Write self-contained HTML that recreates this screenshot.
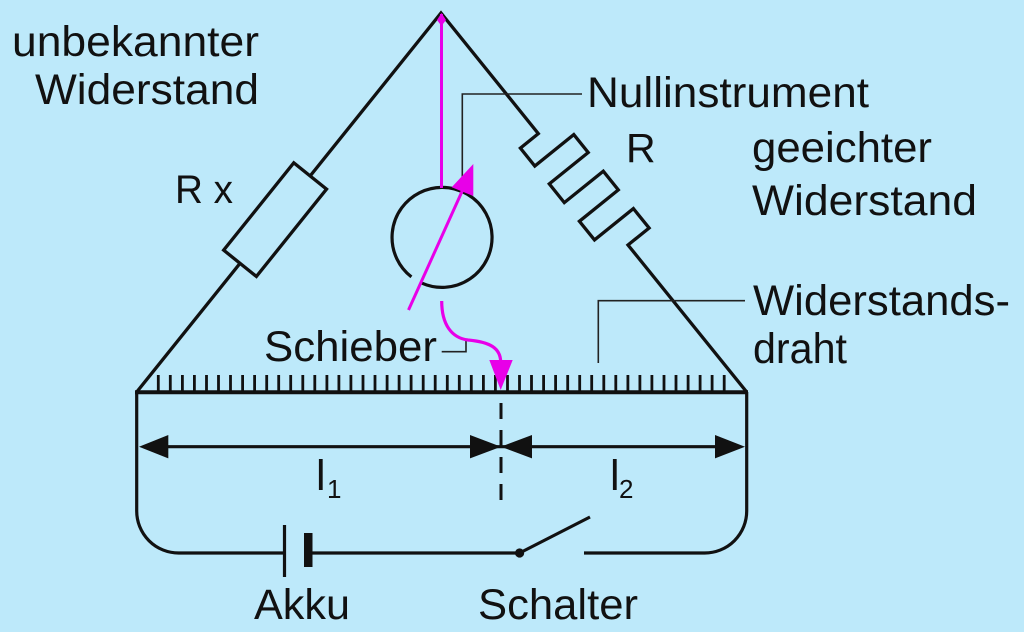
<!DOCTYPE html>
<html>
<head>
<meta charset="utf-8">
<style>
  html,body{margin:0;padding:0;background:#bde9fa;}
  svg{display:block;}
  text{font-family:"Liberation Sans", Arial, sans-serif; fill:#111;}
</style>
</head>
<body>
<svg width="1024" height="632" viewBox="0 0 1024 632" xmlns="http://www.w3.org/2000/svg">
  <rect x="0" y="0" width="1024" height="632" fill="#bde9fa"/>

  <!-- Triangle with meander resistor on right side -->
  <path d="M136.7,392 L441,13 L538.3,133.6 L520.4,148.1 L534.8,166 L573.8,134.6 L588.2,152.5 L549.3,183.9 L564.3,202.6 L603.3,171.2 L618.3,189.9 L579.4,221.3 L594.5,239.9 L633.4,208.6 L649.1,228 L628,245 L746.7,392"
        fill="none" stroke="#111" stroke-width="3.3" stroke-linejoin="miter" stroke-miterlimit="10"/>

  <!-- Rx resistor rectangle on left side -->
  <g transform="translate(441,13) rotate(128.76)">
    <rect x="209" y="-21" width="112" height="42" fill="#bde9fa" stroke="#111" stroke-width="3.3"/>
  </g>

  <!-- Ruler line -->
  <line x1="135" y1="392.3" x2="748" y2="392.3" stroke="#111" stroke-width="4"/>
  <!-- Ticks -->
  <g stroke="#111" stroke-width="2.8">
    <path d="M158.3,375V392 M170.3,375V392 M182.4,375V392 M194.4,375V392 M206.5,375V392 M218.5,375V392 M230.5,375V392 M242.6,375V392 M254.6,375V392 M266.7,375V392 M278.7,375V392 M290.7,375V392 M302.8,375V392 M314.8,375V392 M326.9,375V392 M338.9,375V392 M350.9,375V392 M363.0,375V392 M375.0,375V392 M387.1,375V392 M399.1,375V392 M411.1,375V392 M423.2,375V392 M435.2,375V392 M447.3,375V392 M459.3,375V392 M471.3,375V392 M483.4,375V392 M495.4,375V392 M507.5,375V392 M519.5,375V392 M531.5,375V392 M543.6,375V392 M555.6,375V392 M567.7,375V392 M579.7,375V392 M591.7,375V392 M603.8,375V392 M615.8,375V392 M627.9,375V392 M639.9,375V392 M651.9,375V392 M664.0,375V392 M676.0,375V392 M688.1,375V392 M700.1,375V392 M712.1,375V392 M724.2,375V392"/>
  </g>

  <!-- Side verticals and bottom circuit -->
  <path d="M136.7,392 V511 A42,42 0 0 0 178.7,553 H284.5" fill="none" stroke="#111" stroke-width="3.2"/>
  <path d="M584,553 H704.7 A42,42 0 0 0 746.7,511 V392" fill="none" stroke="#111" stroke-width="3.2"/>
  <!-- Battery -->
  <line x1="284.5" y1="525" x2="284.5" y2="577" stroke="#111" stroke-width="3.2"/>
  <rect x="304" y="533" width="8.5" height="34" fill="#111"/>
  <line x1="312" y1="553" x2="519.6" y2="553" stroke="#111" stroke-width="3.2"/>
  <!-- Switch -->
  <circle cx="519.6" cy="553" r="4.6" fill="#111"/>
  <line x1="519.6" y1="553" x2="590" y2="517" stroke="#111" stroke-width="3.2"/>

  <!-- Dimension arrows -->
  <line x1="150" y1="446.7" x2="735" y2="446.7" stroke="#111" stroke-width="3.2"/>
  <polygon points="139,446.7 168.3,435 168.3,458.4" fill="#111"/>
  <polygon points="501,446.7 470,435 470,458.4" fill="#111"/>
  <polygon points="501,446.7 532,435 532,458.4" fill="#111"/>
  <polygon points="745,446.7 715,435 715,458.4" fill="#111"/>
  <!-- Dashed slider line -->
  <line x1="501" y1="403" x2="501" y2="501" stroke="#111" stroke-width="3" stroke-dasharray="16 11"/>

  <!-- Null instrument circle with gap -->
  <path d="M422,283.2 A50,50 0 1 0 411.4,276.9" fill="none" stroke="#111" stroke-width="3.2"/>

  <!-- Leader lines (thin) -->
  <path d="M462.3,192 V94 H582" fill="none" stroke="#222" stroke-width="1.6"/>
  <path d="M598.3,363 V300.7 H745" fill="none" stroke="#222" stroke-width="1.6"/>
  <path d="M441.7,351.7 H466 V340" fill="none" stroke="#222" stroke-width="1.6"/>

  <!-- Magenta elements -->
  <line x1="441.5" y1="14" x2="441.5" y2="188" stroke="#e800e8" stroke-width="3"/>
  <polygon points="441.5,13 446,20 441.5,26 437,20" fill="#e800e8"/>
  <line x1="408.5" y1="310" x2="469" y2="176" stroke="#e800e8" stroke-width="3"/>
  <polygon points="451.7,187.3 473.3,164 473.3,196" fill="#e800e8"/>
  <path d="M441.7,301 C441.7,325 452,338 468,340 C490,342 500.5,348 500.7,362" fill="none" stroke="#e800e8" stroke-width="3.2"/>
  <polygon points="489.3,360 512.7,360 500.7,390" fill="#e800e8"/>

  <!-- Labels -->
  <text x="12" y="56" font-size="43" textLength="247" lengthAdjust="spacingAndGlyphs">unbekannter</text>
  <text x="35" y="104" font-size="43" textLength="224" lengthAdjust="spacingAndGlyphs">Widerstand</text>
  <text x="587" y="107" font-size="43" textLength="282" lengthAdjust="spacingAndGlyphs">Nullinstrument</text>
  <text x="626" y="162" font-size="41">R</text>
  <text x="752" y="162" font-size="43" textLength="180" lengthAdjust="spacingAndGlyphs">geeichter</text>
  <text x="752" y="215" font-size="43" textLength="225" lengthAdjust="spacingAndGlyphs">Widerstand</text>
  <text x="753" y="315" font-size="43" textLength="257" lengthAdjust="spacingAndGlyphs">Widerstands-</text>
  <text x="753" y="363" font-size="43" textLength="94" lengthAdjust="spacingAndGlyphs">draht</text>
  <text x="175" y="203" font-size="40" textLength="58" lengthAdjust="spacingAndGlyphs">R x</text>
  <text x="264" y="361" font-size="43" textLength="173" lengthAdjust="spacingAndGlyphs">Schieber</text>
  <text x="254" y="619" font-size="43" textLength="96" lengthAdjust="spacingAndGlyphs">Akku</text>
  <text x="478" y="619" font-size="43" textLength="160" lengthAdjust="spacingAndGlyphs">Schalter</text>
  <text x="316" y="490" font-size="43">l</text>
  <text x="327" y="498" font-size="26">1</text>
  <text x="610" y="490" font-size="43">l</text>
  <text x="619" y="498" font-size="26">2</text>
</svg>
</body>
</html>
